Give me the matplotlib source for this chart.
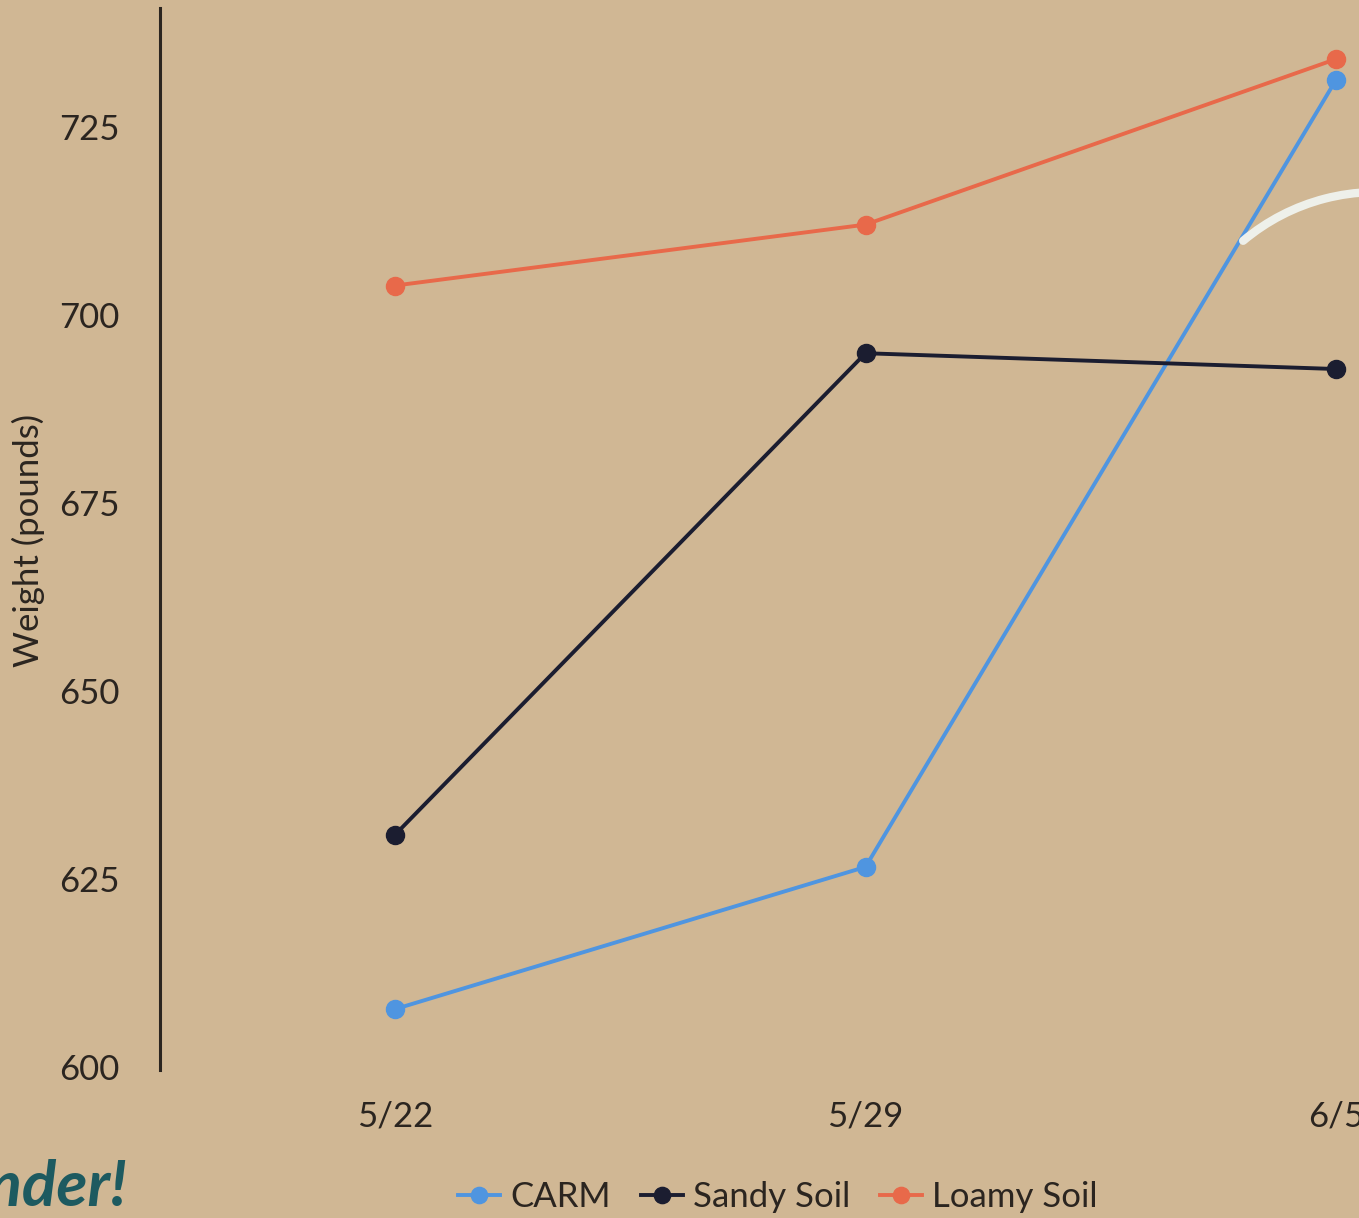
import matplotlib
matplotlib.use("Agg")
import matplotlib.pyplot as plt
from matplotlib.patches import Arc

dates = ["5/22", "5/29", "6/5"]
carm = [608.1, 627.0, 731.6]
sandy = [631.3, 695.3, 693.2]
loamy = [704.3, 712.4, 734.4]
yticks = [600, 625, 650, 675, 700, 725]

BG = "#D0B794"
C_CARM = "#4F95E0"
C_SANDY = "#1B1D30"
C_LOAMY = "#E8694A"
TXT = "#2B2520"

plt.rcParams['font.family'] = ['Lato', 'DejaVu Sans']

W, H = 1359, 1218
fig = plt.figure(figsize=(W / 100, H / 100), dpi=100, facecolor=BG)

# axes: left spine at x=160px, y range 1068..8 px; x extends beyond right edge
x0 = 160 / W
x1 = 1571 / W
y_bot = 1 - 1070 / H
y_top = 1 - 8 / H
ax = fig.add_axes([x0, y_bot, x1 - x0, y_top - y_bot])
ax.set_facecolor(BG)

xs = list(range(len(dates)))
for vals, col, lab in [(carm, C_CARM, "CARM"), (sandy, C_SANDY, "Sandy Soil"), (loamy, C_LOAMY, "Loamy Soil")]:
    ax.plot(xs, vals, color=col, lw=2.8, marker="o", ms=13, label=lab, clip_on=False, zorder=3)

ax.set_xlim(-0.5, 2.5)
ax.set_ylim(600, 741.2)
ax.set_xticks(xs)
ax.set_xticklabels(dates)
ax.set_yticks(yticks)
for s in ["top", "right", "bottom"]:
    ax.spines[s].set_visible(False)
ax.spines["left"].set_color(TXT)
ax.spines["left"].set_linewidth(2.2)
ax.tick_params(axis="both", length=0, labelsize=25, colors=TXT)
ax.tick_params(axis="y", pad=29)
ax.tick_params(axis="x", pad=22)
for t in ax.get_yticklabels():
    t.set_va("center")

fig.text(28 / W, 1 - 540 / H, "Weight (pounds)", rotation=90, ha="center", va="center",
         fontsize=25, color=TXT)

# partial decorative heading text at bottom-left
fig.text(127 / W, 1 - 1188 / H, "Wonder!", ha="right", va="center", fontsize=46,
         fontweight="bold", fontstyle="italic", color="#1D5A60")

# white decorative arc in the top-right
arc = Arc((1377 / W, 1 - 400 / H), 2 * 208 / W, 2 * 208 / H, theta1=80, theta2=127,
          transform=fig.transFigure, color="#EEF0EA", lw=6, capstyle="round")
fig.add_artist(arc)

leg = fig.legend(loc="center", bbox_to_anchor=(778 / W, 1 - 1197 / H), ncol=3, frameon=False,
                 fontsize=25, handlelength=1.2, handletextpad=0.3, columnspacing=0.87,
                 labelcolor=TXT, markerscale=0.9)

fig.savefig("out.png", dpi=100, facecolor=BG)
